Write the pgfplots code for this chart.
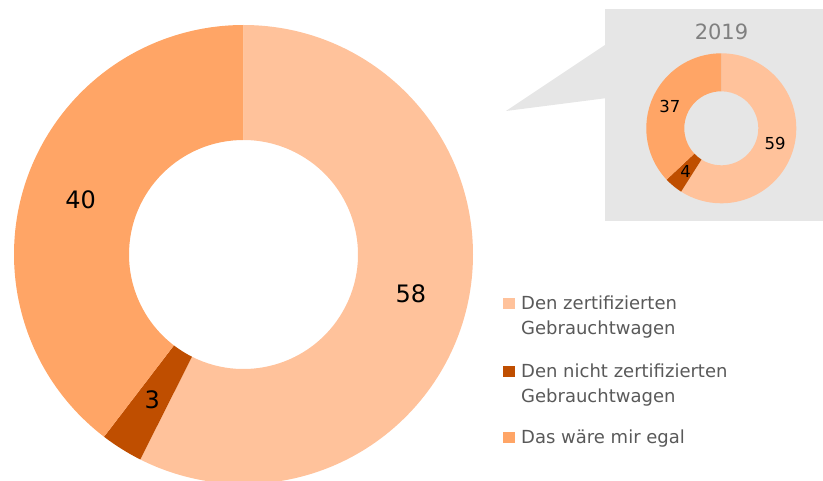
\documentclass[border=0pt]{standalone}
\usepackage{pgfplots}
\pgfplotsset{compat=1.18}
\usepackage{pgfplotstable}
\usepackage{fontspec}
\setmainfont{DejaVu Sans}
\definecolor{cLight}{HTML}{FFC29B}
\definecolor{cDark}{HTML}{BF4E00}
\definecolor{cMid}{HTML}{FFA566}
\definecolor{boxgray}{HTML}{E6E6E6}
\definecolor{txtgray}{HTML}{595959}
\definecolor{titlegray}{HTML}{808080}

% current survey
\pgfplotstableread{
val
58
3
40
}\cur
% 2019
\pgfplotstableread{
val
59
4
37
}\prev

\newcommand\getval[3]{\pgfplotstablegetelem{#1}{val}\of#2\global\let#3\pgfplotsretval}
% cx, cy, R, r, a1, a2, colour
\newcommand\slice[7]{%
  \fill[#7] ([shift={(#5:#3)}]axis cs:#1,#2) arc[start angle=#5,end angle=#6,radius=#3]
   -- ([shift={(#6:#4)}]axis cs:#1,#2) arc[start angle=#6,end angle=#5,radius=#4] -- cycle;}

\begin{document}
\begin{tikzpicture}
\getval{0}{\cur}{\cA}\getval{1}{\cur}{\cB}\getval{2}{\cur}{\cC}
\getval{0}{\prev}{\pA}\getval{1}{\prev}{\pB}\getval{2}{\prev}{\pC}
\pgfmathsetmacro\cS{360/(\cA+\cB+\cC)}
\pgfmathsetmacro\pS{360/(\pA+\pB+\pC)}
\pgfmathsetmacro\aA{90}
\pgfmathsetmacro\aB{\aA-\cS*\cA}
\pgfmathsetmacro\aC{\aB-\cS*\cB}
\pgfmathsetmacro\aD{\aC-\cS*\cC}
\pgfmathsetmacro\mA{(\aA+\aB)/2}
\pgfmathsetmacro\mB{(\aB+\aC)/2}
\pgfmathsetmacro\mC{(\aC+\aD)/2}
\pgfmathsetmacro\bA{90}
\pgfmathsetmacro\bB{\bA-\pS*\pA}
\pgfmathsetmacro\bC{\bB-\pS*\pB}
\pgfmathsetmacro\bD{\bC-\pS*\pC}
\pgfmathsetmacro\nA{(\bA+\bB)/2}
\pgfmathsetmacro\nB{(\bB+\bC)/2}
\pgfmathsetmacro\nC{(\bC+\bD)/2}
\begin{axis}[x=1bp,y=1bp,xmin=0,xmax=823,ymin=0,ymax=481,hide axis,clip=false]
% callout box
\fill[boxgray] (axis cs:605,260) rectangle (axis cs:823,472);
\fill[boxgray] (axis cs:605,436) -- (axis cs:506,370) -- (axis cs:605,382.7) -- cycle;
\node[text=titlegray,font=\fontsize{21bp}{25bp}\selectfont] at (axis cs:721.5,449) {2019};
% small donut
\slice{721.3}{352.7}{75bp}{37bp}{\bA}{\bB}{cLight}
\slice{721.3}{352.7}{75bp}{37bp}{\bB}{\bC}{cDark}
\slice{721.3}{352.7}{75bp}{37bp}{\bC}{\bD}{cMid}
\node[font=\fontsize{16.5bp}{19bp}\selectfont] at ([shift={(\nA:56bp)}]axis cs:721.3,352.7) {\pA};
\node[font=\fontsize{16.5bp}{19bp}\selectfont] at ([shift={(\nB:56bp)}]axis cs:721.3,352.7) {\pB};
\node[font=\fontsize{16.5bp}{19bp}\selectfont] at ([shift={(\nC:56bp)}]axis cs:721.3,352.7) {\pC};
% big donut
\slice{243.5}{226.5}{229.5bp}{114.5bp}{\aA}{\aB}{cLight}
\slice{243.5}{226.5}{229.5bp}{114.5bp}{\aB}{\aC}{cDark}
\slice{243.5}{226.5}{229.5bp}{114.5bp}{\aC}{\aD}{cMid}
\node[font=\fontsize{24bp}{28bp}\selectfont] at ([shift={(\mA:172bp)}]axis cs:243.5,226.5) {\cA};
\node[font=\fontsize{24bp}{28bp}\selectfont] at ([shift={(\mB:172bp)}]axis cs:243.5,226.5) {\cB};
\node[font=\fontsize{24bp}{28bp}\selectfont] at ([shift={(\mC:172bp)}]axis cs:243.5,226.5) {\cC};
% legend
\fill[cLight] (axis cs:503,171.7) rectangle (axis cs:515,183);
\fill[cDark] (axis cs:503,103.7) rectangle (axis cs:515,115);
\fill[cMid] (axis cs:503,37.7) rectangle (axis cs:515,49);
\begin{scope}[every node/.style={anchor=base west,inner sep=0pt,text=txtgray,font=\fontsize{18bp}{22bp}\selectfont}]
\node at (axis cs:521,171) {Den zertifizierten};
\node at (axis cs:521,146) {Gebrauchtwagen};
\node at (axis cs:521,103.3) {Den nicht zertifizierten};
\node at (axis cs:521,78.3) {Gebrauchtwagen};
\node at (axis cs:521,37) {Das wäre mir egal};
\end{scope}
\end{axis}
\pgfresetboundingbox
\path[use as bounding box] (0,0) rectangle (823bp,481bp);
\end{tikzpicture}
\end{document}
